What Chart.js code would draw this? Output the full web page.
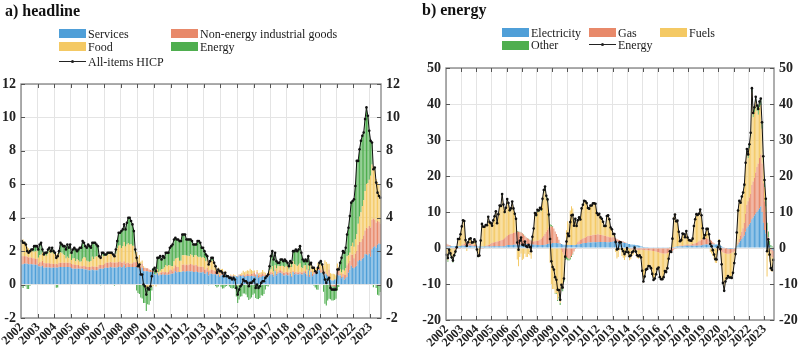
<!DOCTYPE html>
<html><head><meta charset="utf-8">
<script src="https://cdn.jsdelivr.net/npm/chart.js@4.4.0/dist/chart.umd.min.js"></script>
<style>
body{margin:0;width:800px;height:355px;position:relative;background:#fff;font-family:"Liberation Serif",serif;overflow:hidden}
canvas{position:absolute;top:0}
.title{position:absolute;font-weight:bold;font-size:16px;line-height:16px;color:#111;white-space:nowrap}
.lt{position:absolute;font-size:12px;line-height:12px;color:#1a1a1a;white-space:nowrap}
.sw{position:absolute;width:27px;height:9px}
.ln{position:absolute;width:27px;height:1px;background:#222}
.dt{position:absolute;width:3px;height:3px;border-radius:2px;background:#222}
</style></head>
<body>
<canvas id="c1" width="400" height="355" style="left:0"></canvas>
<canvas id="c2" width="400" height="355" style="left:400px"></canvas>
<div class="title" style="left:5px;top:3px">a) headline</div>
<div class="title" style="left:422px;top:2px">b) energy</div>
<div id="leg"></div>
<script>
// ---------- DATA ----------
const yearLabels = ['2002','2003','2004','2005','2006','2007','2008','2009','2010','2011','2012','2013','2014','2015','2016','2017','2018','2019','2020','2021','2022','2023'];
const monthsInLastYear = 8;

// a) headline: annual HICP inflation and contributions (pp)
const hicp = [
2.6,2.5,2.5,2.4,2.0,1.9,2.0,2.1,2.1,2.3,2.3,2.3,
2.1,2.4,2.5,2.1,1.8,1.9,1.9,2.1,2.2,2.0,2.2,2.0,
1.9,1.6,1.7,2.0,2.5,2.4,2.3,2.3,2.1,2.4,2.2,2.4,
1.9,2.1,2.2,2.1,2.0,2.1,2.2,2.2,2.6,2.5,2.3,2.2,
2.4,2.3,2.2,2.5,2.5,2.5,2.4,2.3,1.7,1.6,1.9,1.9,
1.8,1.8,1.9,1.9,1.9,1.9,1.8,1.7,2.1,2.6,3.1,3.1,
3.2,3.3,3.6,3.3,3.7,4.0,4.0,3.8,3.6,3.2,2.1,1.6,
1.1,1.2,0.6,0.6,0.0,-0.1,-0.6,-0.2,-0.3,-0.1,0.5,0.9,
1.0,0.8,1.6,1.6,1.7,1.5,1.7,1.6,1.9,1.9,1.9,2.2,
2.3,2.4,2.7,2.8,2.7,2.7,2.6,2.6,3.0,3.0,3.0,2.7,
2.7,2.7,2.7,2.6,2.4,2.4,2.4,2.6,2.6,2.5,2.2,2.2,
2.0,1.8,1.7,1.2,1.4,1.6,1.6,1.3,1.1,0.7,0.9,0.8,
0.8,0.7,0.5,0.7,0.5,0.5,0.4,0.4,0.3,0.4,0.3,-0.2,
-0.6,-0.3,-0.1,0.0,0.3,0.2,0.2,0.1,-0.1,0.1,0.1,0.2,
0.3,-0.2,0.0,-0.2,-0.1,0.1,0.2,0.2,0.4,0.5,0.6,1.1,
1.7,2.0,1.5,1.9,1.4,1.3,1.3,1.5,1.5,1.4,1.5,1.4,
1.3,1.1,1.4,1.3,2.0,2.0,2.1,2.0,2.1,2.3,1.9,1.5,
1.4,1.5,1.4,1.7,1.2,1.3,1.0,1.0,0.8,0.7,1.0,1.3,
1.4,1.2,0.7,0.3,0.1,0.3,0.4,-0.2,-0.3,-0.3,-0.3,-0.3,
0.9,0.9,1.3,1.6,2.0,1.9,2.2,3.0,3.4,4.1,4.9,5.0,
5.1,5.9,7.4,7.4,8.1,8.6,8.9,9.1,9.9,10.6,10.1,9.2,
8.6,8.5,6.9,7.0,6.1,5.5,5.3,5.2];

const services = [
1.20,1.22,1.25,1.25,1.25,1.22,1.22,1.22,1.20,1.20,1.18,1.18,
1.10,1.08,1.08,1.12,1.00,1.02,1.02,1.02,1.02,1.00,1.00,1.02,
1.00,1.02,1.00,1.05,1.05,1.05,1.05,1.05,1.05,1.05,1.05,1.05,
0.98,0.95,0.95,0.95,0.95,0.95,0.95,0.95,0.95,0.92,0.90,0.90,
0.85,0.85,0.85,0.90,0.85,0.85,0.85,0.85,0.95,0.95,0.95,0.95,
1.00,1.00,1.00,1.00,1.05,1.02,1.02,1.02,1.02,1.02,1.05,1.08,
1.02,1.05,1.15,1.00,1.05,1.05,1.05,1.05,1.05,1.05,1.05,1.05,
1.00,0.95,0.85,1.00,0.80,0.80,0.80,0.80,0.75,0.75,0.75,0.72,
0.60,0.58,0.68,0.55,0.60,0.58,0.62,0.58,0.60,0.58,0.60,0.60,
0.65,0.65,0.68,0.80,0.72,0.75,0.75,0.75,0.78,0.80,0.75,0.80,
0.80,0.80,0.78,0.80,0.75,0.75,0.78,0.75,0.72,0.72,0.72,0.75,
0.65,0.65,0.75,0.55,0.65,0.65,0.62,0.62,0.62,0.55,0.60,0.45,
0.55,0.58,0.58,0.70,0.50,0.45,0.50,0.50,0.45,0.50,0.48,0.50,
0.45,0.55,0.52,0.50,0.55,0.45,0.50,0.52,0.52,0.50,0.52,0.50,
0.50,0.45,0.60,0.40,0.45,0.45,0.52,0.50,0.50,0.45,0.48,0.55,
0.60,0.60,0.48,0.80,0.55,0.65,0.70,0.70,0.65,0.55,0.55,0.60,
0.55,0.55,0.65,0.45,0.75,0.60,0.65,0.60,0.60,0.65,0.60,0.60,
0.70,0.65,0.50,0.85,0.45,0.75,0.50,0.60,0.65,0.70,0.85,0.85,
0.70,0.70,0.55,0.65,0.60,0.50,0.40,0.30,0.25,0.25,0.30,0.30,
0.59,0.55,0.55,0.38,0.46,0.29,0.38,0.46,0.71,0.88,1.13,1.01,
0.97,1.05,1.13,1.39,1.47,1.43,1.55,1.60,1.81,1.81,1.76,1.85,
1.67,2.11,2.24,2.29,2.20,2.38,2.46,2.42];

const neig = [
0.50,0.48,0.45,0.45,0.42,0.40,0.40,0.40,0.38,0.38,0.35,0.35,
0.15,0.25,0.25,0.30,0.30,0.25,0.25,0.25,0.25,0.25,0.25,0.22,
0.22,0.22,0.22,0.25,0.25,0.25,0.25,0.25,0.25,0.25,0.25,0.25,
0.25,0.25,0.25,0.22,0.22,0.22,0.15,0.15,0.15,0.20,0.20,0.15,
0.20,0.20,0.20,0.20,0.22,0.22,0.22,0.22,0.22,0.22,0.22,0.22,
0.25,0.30,0.32,0.30,0.30,0.30,0.30,0.30,0.30,0.30,0.30,0.30,
0.30,0.25,0.25,0.25,0.25,0.25,0.20,0.20,0.22,0.28,0.28,0.30,
0.20,0.25,0.25,0.25,0.20,0.20,0.18,0.18,0.15,0.12,0.10,0.10,
0.02,0.02,0.03,0.06,0.10,0.15,0.15,0.15,0.15,0.12,0.15,0.25,
0.25,0.15,0.30,0.35,0.35,0.30,0.00,0.00,0.40,0.40,0.40,0.40,
0.35,0.40,0.45,0.40,0.40,0.40,0.40,0.35,0.35,0.35,0.35,0.30,
0.25,0.25,0.25,0.25,0.20,0.25,0.25,0.20,0.20,0.10,0.10,0.10,
0.10,0.12,0.08,0.05,0.00,0.00,0.00,0.05,0.05,0.05,0.00,0.02,
0.05,0.05,0.05,0.08,0.05,0.10,0.10,0.12,0.10,0.10,0.12,0.15,
0.22,0.15,0.15,0.15,0.15,0.15,0.15,0.10,0.10,0.07,0.10,0.10,
0.15,0.10,0.10,0.10,0.10,0.12,0.15,0.15,0.15,0.15,0.15,0.15,
0.18,0.15,0.10,0.08,0.08,0.12,0.12,0.12,0.12,0.12,0.12,0.12,
0.10,0.15,0.10,0.08,0.12,0.07,0.14,0.15,0.10,0.10,0.12,0.15,
0.15,0.20,0.15,0.15,0.07,0.07,0.50,0.05,-0.10,-0.10,-0.10,-0.15,
0.41,0.27,0.08,0.11,0.19,0.32,0.19,0.70,0.57,0.54,0.65,0.78,
0.60,0.81,0.88,0.99,1.09,1.12,1.17,1.33,1.43,1.59,1.59,1.66,
1.74,1.77,1.72,1.61,1.51,1.43,1.30,1.22];

const food = [
0.95,1.00,0.85,0.80,0.60,0.55,0.45,0.45,0.40,0.40,0.45,0.50,
0.35,0.42,0.47,0.50,0.45,0.51,0.45,0.61,0.78,0.63,0.75,0.61,
0.71,0.55,0.66,0.52,0.63,0.60,0.50,0.46,0.26,0.36,0.29,0.51,
0.24,0.36,0.38,0.22,0.35,0.27,0.27,0.28,0.45,0.53,0.50,0.37,
0.33,0.31,0.36,0.57,0.46,0.60,0.62,0.62,0.42,0.47,0.58,0.51,
0.48,0.44,0.44,0.56,0.53,0.51,0.46,0.45,0.53,0.85,0.97,0.98,
0.87,1.01,1.14,1.02,1.10,1.17,1.13,1.17,1.05,0.99,0.53,0.60,
0.40,0.57,0.27,0.19,0.10,0.01,-0.21,-0.21,-0.15,-0.16,-0.12,-0.09,
0.00,-0.11,0.21,0.13,0.13,0.18,0.16,0.29,0.42,0.39,0.40,0.30,
0.20,0.29,0.42,0.40,0.52,0.56,0.67,0.67,0.58,0.56,0.62,0.53,
0.58,0.50,0.58,0.55,0.48,0.61,0.58,0.57,0.57,0.59,0.53,0.60,
0.69,0.49,0.52,0.44,0.57,0.53,0.56,0.51,0.37,0.23,0.32,0.25,
0.28,0.24,0.06,0.08,0.09,0.04,0.01,0.06,0.04,0.06,0.09,0.00,
-0.05,0.00,0.05,0.12,0.23,0.19,0.19,0.22,0.21,0.35,0.23,0.16,
0.12,0.01,0.12,0.12,0.11,0.14,0.20,0.16,0.10,0.07,0.13,0.19,
0.16,0.40,0.20,0.26,0.31,0.35,0.24,0.26,0.32,0.41,0.34,0.37,
0.36,0.20,0.46,0.52,0.58,0.50,0.42,0.39,0.46,0.49,0.30,0.25,
0.34,0.35,0.29,0.26,0.26,0.37,0.31,0.31,0.22,0.20,0.34,0.28,
0.37,0.33,0.43,0.65,0.68,0.68,0.35,0.33,0.40,0.40,0.32,0.25,
0.26,0.22,0.30,0.23,0.24,0.22,0.41,0.53,0.47,0.48,0.52,0.71,
0.70,0.84,1.00,1.26,1.50,1.78,1.96,2.12,2.36,2.62,2.72,2.76,
3.10,3.30,3.10,2.97,2.60,2.30,2.20,2.00];

const energyContrib = [
-0.05,-0.20,-0.05,-0.10,-0.27,-0.27,-0.07,0.03,0.12,0.32,0.32,0.27,
0.50,0.65,0.70,0.18,0.05,0.12,0.18,0.22,0.15,0.12,0.20,0.15,
-0.03,-0.19,-0.18,0.18,0.57,0.50,0.50,0.54,0.54,0.74,0.61,0.59,
0.43,0.54,0.62,0.71,0.48,0.66,0.83,0.82,1.05,0.85,0.70,0.78,
1.02,0.94,0.79,0.83,0.97,0.83,0.71,0.61,0.11,-0.04,0.15,0.22,
0.07,0.06,0.14,0.04,0.02,0.07,0.02,-0.07,0.25,0.43,0.78,0.74,
1.01,0.99,1.06,1.03,1.30,1.53,1.62,1.38,1.28,0.88,0.24,-0.35,
-0.50,-0.57,-0.77,-0.84,-1.10,-1.11,-1.37,-0.97,-1.05,-0.81,-0.23,0.17,
0.38,0.31,0.68,0.86,0.87,0.59,0.77,0.58,0.73,0.81,0.75,1.05,
1.20,1.31,1.30,1.25,1.11,1.09,1.18,1.18,1.24,1.24,1.23,0.97,
0.97,1.00,0.89,0.85,0.77,0.64,0.64,0.93,0.96,0.84,0.60,0.55,
0.41,0.41,0.18,-0.04,-0.02,0.17,0.17,-0.03,-0.09,-0.18,-0.12,0.00,
-0.13,-0.24,-0.22,-0.13,-0.09,0.01,-0.11,-0.21,-0.24,-0.21,-0.27,-0.72,
-1.05,-0.90,-0.72,-0.70,-0.53,-0.54,-0.59,-0.76,-0.93,-0.85,-0.77,-0.61,
-0.54,-0.81,-0.87,-0.87,-0.81,-0.64,-0.67,-0.56,-0.30,-0.09,-0.11,0.26,
0.79,0.90,0.72,0.74,0.44,0.18,0.21,0.39,0.38,0.29,0.46,0.28,
0.21,0.20,0.19,0.25,0.59,0.78,0.91,0.89,0.92,1.04,0.88,0.53,
0.26,0.35,0.51,0.51,0.37,0.11,0.05,-0.06,-0.17,-0.30,-0.31,0.02,
0.18,-0.03,-0.43,-1.15,-1.25,-0.95,-0.85,-0.88,-0.85,-0.85,-0.82,-0.70,
-0.36,-0.14,0.37,0.88,1.11,1.07,1.22,1.31,1.65,2.20,2.60,2.50,
2.83,3.20,4.39,3.76,4.04,4.27,4.22,4.05,4.30,4.58,4.03,2.93,
2.09,1.32,-0.16,0.13,-0.21,-0.61,-0.66,-0.44];

// b) energy: annual energy inflation and contributions (pp)
const energy = [
-1.9,-2.8,-0.5,-1.5,-2.6,-3.5,-2.0,-1.0,0.2,2.5,2.5,3.8,
6.0,7.7,7.5,2.2,0.6,1.6,2.5,2.7,1.5,1.6,2.4,1.8,
-0.4,-2.2,-2.1,2.1,6.7,5.9,5.9,6.4,6.3,8.7,7.2,6.9,
6.2,7.7,8.8,10.2,6.9,9.4,11.8,11.7,15.0,12.1,10.0,11.2,
13.6,12.5,10.5,11.0,12.9,11.0,9.5,8.1,1.5,-0.5,2.0,2.9,
0.9,0.8,1.8,0.5,0.3,0.9,0.3,-0.9,3.1,5.4,9.7,9.2,
10.6,10.4,11.2,10.8,13.7,16.1,17.1,14.5,13.5,9.3,2.5,-3.7,
-5.3,-6.0,-8.1,-8.8,-11.6,-11.7,-14.4,-10.2,-11.0,-8.5,-2.4,1.8,
4.0,3.3,7.2,9.1,9.2,6.2,8.1,6.1,7.7,8.5,7.9,11.0,
12.0,13.1,13.0,12.5,11.1,10.9,11.8,11.8,12.4,12.4,12.3,9.7,
9.2,9.5,8.5,8.1,7.3,6.1,6.1,8.9,9.1,8.0,5.7,5.2,
3.9,3.9,1.7,-0.4,-0.2,1.6,1.6,-0.3,-0.9,-1.7,-1.1,0.0,
-1.2,-2.3,-2.1,-1.2,-0.9,0.1,-1.0,-2.0,-2.3,-2.0,-2.6,-6.3,
-9.3,-7.9,-6.0,-5.8,-5.0,-5.1,-5.6,-7.2,-8.9,-8.5,-7.3,-5.8,
-5.4,-8.1,-8.7,-8.7,-8.1,-6.4,-6.7,-5.6,-3.0,-0.9,-1.1,2.6,
8.1,9.3,7.4,7.6,4.5,1.9,2.2,4.0,3.9,3.0,4.7,2.9,
2.2,2.1,2.0,2.6,6.1,8.0,9.4,9.2,9.5,10.7,9.1,5.5,
2.7,3.6,5.3,5.3,3.8,1.1,0.5,-0.6,-1.8,-3.1,-3.2,0.2,
1.9,-0.3,-4.5,-9.7,-11.9,-9.3,-8.4,-7.8,-8.2,-8.2,-8.3,-6.9,
-4.2,-1.7,4.3,10.4,13.1,12.6,14.3,15.4,17.6,23.7,27.5,26.0,
28.8,32.0,44.4,37.5,39.1,42.0,39.6,38.6,40.7,41.5,34.9,25.5,
18.9,13.7,-0.9,2.4,-1.8,-5.6,-6.1,-3.3];

const electricity = [
0.4,0.4,0.4,0.5,0.5,0.5,0.5,0.5,0.5,0.5,0.5,0.5,
0.6,0.6,0.6,0.6,0.6,0.6,0.6,0.6,0.6,0.5,0.5,0.5,
0.4,0.4,0.4,0.4,0.4,0.4,0.4,0.4,0.4,0.4,0.4,0.4,
0.5,0.5,0.5,0.5,0.5,0.5,0.5,0.5,0.5,0.5,0.5,0.6,
0.8,0.8,0.8,0.8,0.8,0.9,0.9,0.9,0.9,0.9,0.9,0.9,
1.1,1.1,1.1,1.1,1.1,1.1,1.0,1.0,1.0,0.9,0.9,0.9,
0.8,0.8,0.8,0.8,0.8,0.8,0.9,1.0,1.1,1.2,1.2,1.2,
1.4,1.4,1.4,1.4,1.3,1.3,1.2,1.1,1.0,0.9,0.9,0.8,
0.8,0.8,0.8,0.8,0.8,0.8,0.8,0.9,1.0,1.0,1.1,1.2,
1.3,1.4,1.4,1.4,1.5,1.5,1.5,1.5,1.6,1.6,1.6,1.6,
1.7,1.7,1.7,1.7,1.7,1.7,1.7,1.6,1.6,1.6,1.7,1.7,
1.8,1.8,1.7,1.7,1.6,1.6,1.5,1.5,1.5,1.4,1.4,1.3,
1.1,1.1,1.0,1.0,0.9,0.9,0.8,0.8,0.7,0.6,0.5,0.4,
0.3,0.3,0.3,0.3,0.2,0.2,0.2,0.2,0.2,0.2,0.2,0.2,
0.1,0.1,0.1,0.1,0.1,0.1,0.1,0.1,0.1,0.1,0.1,0.1,
0.3,0.3,0.4,0.4,0.4,0.5,0.5,0.5,0.5,0.6,0.6,0.6,
0.6,0.6,0.6,0.6,0.6,0.6,0.6,0.6,0.7,0.7,0.7,0.8,
0.9,1.0,1.0,1.0,1.0,1.0,1.0,1.0,1.0,1.0,1.0,1.0,
0.8,0.7,0.5,0.3,0.1,0.0,-0.1,-0.2,-0.3,-0.3,-0.3,-0.3,
-0.2,0.0,0.5,1.0,1.5,2.0,2.5,3.0,3.5,4.5,5.5,6.0,
6.5,7.0,8.0,8.5,9.0,9.5,10.0,10.5,11.0,11.5,10.0,7.0,
5.0,4.0,2.0,1.5,0.8,0.0,-0.5,-0.8];

const gas = [
0.8,0.6,0.4,0.2,0.0,-0.2,-0.3,-0.3,-0.3,-0.2,-0.2,-0.1,
0.2,0.4,0.6,0.8,0.8,0.8,0.7,0.6,0.5,0.4,0.4,0.4,
0.2,0.0,-0.1,-0.2,-0.2,-0.1,0.0,0.2,0.3,0.4,0.6,0.8,
0.9,1.0,1.1,1.2,1.3,1.4,1.5,1.6,1.7,1.9,2.2,2.4,
2.6,2.8,3.0,3.1,3.2,3.3,3.4,3.5,3.6,3.6,3.5,3.4,
3.0,2.6,2.2,1.8,1.6,1.4,1.2,1.0,0.9,0.9,1.0,1.1,
1.2,1.3,1.5,1.8,2.2,2.5,3.0,3.5,4.0,4.5,4.8,4.8,
4.5,4.0,3.2,2.5,1.8,1.0,0.2,-0.5,-1.2,-1.8,-2.2,-2.5,
-2.8,-3.0,-2.8,-2.2,-1.6,-0.9,-0.3,0.2,0.6,0.9,1.1,1.2,
1.3,1.4,1.5,1.7,1.8,1.9,2.0,2.0,2.0,2.1,2.1,2.1,
2.1,2.0,2.0,1.9,1.8,1.7,1.7,1.6,1.5,1.4,1.3,1.2,
1.2,1.1,1.0,0.8,0.7,0.6,0.5,0.4,0.3,0.2,0.1,0.0,
-0.1,-0.2,-0.3,-0.4,-0.5,-0.5,-0.5,-0.5,-0.5,-0.5,-0.5,-0.5,
-0.5,-0.6,-0.6,-0.6,-0.7,-0.7,-0.7,-0.8,-0.8,-0.9,-1.0,-1.1,
-1.2,-1.3,-1.4,-1.5,-1.5,-1.5,-1.5,-1.4,-1.3,-1.2,-1.0,-0.8,
-0.5,-0.3,-0.2,0.0,0.1,0.2,0.2,0.2,0.2,0.2,0.3,0.4,
0.3,0.3,0.4,0.5,0.6,0.7,0.8,1.0,1.2,1.4,1.6,1.7,
1.8,1.8,1.7,1.6,1.4,1.2,1.0,0.6,0.3,0.0,-0.2,-0.4,
-0.6,-0.8,-1.0,-1.2,-1.4,-1.5,-1.5,-1.4,-1.3,-1.2,-1.0,-0.9,
-0.8,-0.5,0.0,0.5,1.0,1.5,2.0,2.5,3.5,5.0,6.5,7.0,
7.5,8.0,9.5,10.0,10.5,11.5,12.5,13.0,14.0,14.5,13.5,11.0,
8.0,6.0,3.0,1.5,0.0,-1.0,-2.0,-2.0];

const fuels = [
-2.8,-3.4,-1.0,-1.9,-2.8,-3.5,-2.0,-1.1,0.0,2.1,2.1,3.3,
5.0,6.4,6.0,0.7,-0.8,0.2,1.2,1.5,0.4,0.7,1.5,0.9,
-0.9,-2.5,-2.3,1.9,6.4,5.5,5.4,5.7,5.5,7.7,6.0,5.5,
4.6,6.0,6.9,8.2,4.8,7.2,9.4,9.2,12.3,9.2,6.9,7.8,
9.7,8.4,6.3,6.7,8.5,6.4,4.8,3.4,-3.2,-5.1,-2.5,-1.5,
-3.3,-3.0,-1.6,-2.5,-2.5,-1.7,-2.0,-3.0,1.0,3.3,7.4,6.7,
8.1,7.8,8.3,7.6,10.0,12.0,12.3,9.2,7.6,2.9,-4.1,-10.1,
-11.4,-11.4,-12.6,-12.5,-14.4,-13.6,-15.3,-10.3,-10.2,-6.9,-0.4,4.1,
6.6,6.0,9.6,10.8,10.2,6.4,7.6,4.9,6.0,6.5,5.6,8.4,
9.2,10.1,9.9,9.2,7.6,7.3,8.1,8.1,8.6,8.5,8.4,5.8,
5.2,5.6,4.6,4.4,3.7,2.6,2.6,5.6,5.9,4.9,2.6,2.2,
0.8,0.9,-1.1,-2.9,-2.5,-0.6,-0.4,-2.2,-2.7,-3.3,-2.6,-1.3,
-2.2,-3.2,-2.8,-1.8,-1.3,-0.3,-1.3,-2.3,-2.5,-2.1,-2.6,-6.2,
-9.1,-7.6,-5.7,-5.5,-4.5,-4.6,-5.1,-6.6,-8.3,-7.8,-6.5,-4.9,
-4.3,-6.9,-7.4,-7.3,-6.7,-5.0,-5.3,-4.3,-1.8,0.2,-0.2,3.3,
8.3,9.3,7.2,7.2,4.0,1.2,1.5,3.3,3.2,2.2,3.8,1.9,
1.3,1.2,1.0,1.5,4.9,6.7,8.0,7.6,7.6,8.6,6.8,3.0,
0.0,0.8,2.6,2.7,1.4,-1.1,-1.5,-2.2,-3.1,-4.1,-4.0,-0.4,
1.7,-0.1,-3.8,-8.5,-10.3,-7.5,-6.5,-5.9,-6.3,-6.4,-6.7,-5.4,
-3.0,-1.1,3.7,8.7,10.3,8.8,9.4,9.4,10.0,13.4,14.5,12.0,
13.8,16.0,25.7,17.8,18.3,19.6,15.6,13.5,14.0,13.7,9.6,5.7,
3.9,1.5,-7.9,-2.2,-3.8,-5.4,-4.1,-0.8];

const otherEnergy = [
-0.3,-0.4,-0.3,-0.3,-0.3,-0.3,-0.2,-0.1,0.0,0.1,0.1,0.1,
0.2,0.3,0.3,0.1,0.0,0.0,0.0,0.0,0.0,0.0,0.0,0.0,
-0.1,-0.1,-0.1,0.0,0.1,0.1,0.1,0.1,0.1,0.2,0.2,0.2,
0.2,0.2,0.3,0.3,0.3,0.3,0.4,0.4,0.5,0.5,0.4,0.4,
0.5,0.5,0.4,0.4,0.4,0.4,0.4,0.3,0.2,0.1,0.1,0.1,
0.1,0.1,0.1,0.1,0.1,0.1,0.1,0.1,0.2,0.3,0.4,0.5,
0.5,0.5,0.6,0.6,0.7,0.8,0.9,0.8,0.8,0.7,0.6,0.4,
0.2,0.0,-0.1,-0.2,-0.3,-0.4,-0.5,-0.5,-0.6,-0.7,-0.7,-0.6,
-0.6,-0.5,-0.4,-0.3,-0.2,-0.1,0.0,0.1,0.1,0.1,0.1,0.2,
0.2,0.2,0.2,0.2,0.2,0.2,0.2,0.2,0.2,0.2,0.2,0.2,
0.2,0.2,0.2,0.1,0.1,0.1,0.1,0.1,0.1,0.1,0.1,0.1,
0.1,0.1,0.1,0.0,0.0,0.0,0.0,0.0,0.0,0.0,0.0,0.0,
0.0,0.0,0.0,0.0,0.0,0.0,0.0,0.0,0.0,0.0,0.0,0.0,
0.0,0.0,0.0,0.0,0.0,0.0,0.0,0.0,0.0,0.0,0.0,0.0,
0.0,0.0,0.0,0.0,0.0,0.0,0.0,0.0,0.0,0.0,0.0,0.0,
0.0,0.0,0.0,0.0,0.0,0.0,0.0,0.0,0.0,0.0,0.0,0.0,
0.0,0.0,0.0,0.0,0.0,0.0,0.0,0.0,0.0,0.0,0.0,0.0,
0.0,0.0,0.0,0.0,0.0,0.0,0.0,0.0,0.0,0.0,0.0,0.0,
0.0,-0.1,-0.2,-0.3,-0.3,-0.3,-0.3,-0.3,-0.3,-0.3,-0.3,-0.3,
-0.2,-0.1,0.1,0.2,0.3,0.3,0.4,0.5,0.6,0.8,1.0,1.0,
1.0,1.0,1.2,1.2,1.3,1.4,1.5,1.6,1.7,1.8,1.8,1.8,
2.0,2.2,2.0,1.6,1.2,0.8,0.5,0.3];

const headlineTicks = {min: -2, max: 12, step: 2};
const energyTicks = {min: -20, max: 50, step: 10};

// ---------- STYLE ----------
const C = {blue:'#4f9fd8', orange:'#e8896a', yellow:'#f4c964', green:'#4fae4f', line:'#111'};
const months = [];
yearLabels.forEach((y, yi) => {
  const n = yi === yearLabels.length - 1 ? monthsInLastYear : 12;
  for (let m = 1; m <= n; m++) months.push(y + '-' + String(m).padStart(2, '0'));
});

Chart.defaults.font.family = '"Liberation Serif", serif';
Chart.defaults.color = '#222';

const framePlugin = {
  id: 'frame',
  afterDraw(chart) {
    const {ctx, chartArea: a} = chart;
    const n = chart.data.labels.length;
    const w = (a.right - a.left) / n;
    ctx.save();
    ctx.strokeStyle = '#8c8c8c';
    ctx.lineWidth = 1.4;
    ctx.strokeRect(a.left, a.top, a.right - a.left, a.bottom - a.top);
    ctx.lineWidth = 1;
    ctx.strokeStyle = '#555';
    ctx.beginPath();
    for (let i = 12; i < n; i += 12) {
      const x = Math.round(a.left + i * w) + 0.5;
      ctx.moveTo(x, a.bottom); ctx.lineTo(x, a.bottom - 4);
      ctx.moveTo(x, a.top); ctx.lineTo(x, a.top + 4);
    }
    const ys = chart.scales.y;
    ys.ticks.forEach(t => {
      const py = Math.round(ys.getPixelForValue(t.value)) + 0.5;
      ctx.moveTo(a.left, py); ctx.lineTo(a.left + 4, py);
      ctx.moveTo(a.right, py); ctx.lineTo(a.right - 4, py);
    });
    ctx.stroke();
    ctx.restore();
  }
};

function barDs(label, data, color) {
  return {type: 'bar', label, data, backgroundColor: color, stack: 'c', order: 1,
          barPercentage: 0.78, categoryPercentage: 1.0, borderWidth: 0};
}
function lineDs(label, data) {
  return {type: 'line', label, data, borderColor: C.line, borderWidth: 1, stack: 'line', order: 0,
          pointRadius: 1.3, pointBackgroundColor: C.line, pointBorderWidth: 0, tension: 0};
}

function makeChart(id, datasets, t, dims) {
  const yAxis = (pos, width) => ({
    position: pos, stacked: true, min: t.min, max: t.max,
    ticks: {stepSize: t.step, padding: 5, font: {size: 14, weight: 'bold'}, color: '#222'},
    grid: {display: pos === 'left', color: '#e4e4e4', drawTicks: false, lineWidth: 1},
    border: {display: false},
    afterFit: s => { s.width = width; }
  });
  return new Chart(document.getElementById(id), {
    data: {labels: months, datasets},
    options: {
      responsive: false, animation: false, devicePixelRatio: 1,
      layout: {padding: {top: dims.top, left: 0, right: 0, bottom: 0}},
      plugins: {legend: {display: false}, tooltip: {enabled: false}},
      scales: {
        x: {
          stacked: true, offset: true,
          ticks: {autoSkip: false, minRotation: 45, maxRotation: 45, padding: 2,
                  font: {size: 12.5, weight: 'bold'}, color: '#222',
                  callback: (v, i) => (i % 12 === 0 ? yearLabels[i / 12] : '')},
          grid: {offset: true, drawTicks: false, lineWidth: 1,
                 color: c => (c.index % 12 === 0 ? '#e4e4e4' : 'rgba(0,0,0,0)')},
          border: {display: false},
          afterFit: s => { s.height = dims.xh; }
        },
        y: yAxis('left', dims.yl),
        y2: yAxis('right', dims.yr)
      }
    },
    plugins: [framePlugin]
  });
}

makeChart('c1', [
  barDs('Services', services, C.blue),
  barDs('Non-energy industrial goods', neig, C.orange),
  barDs('Food', food, C.yellow),
  barDs('Energy', energyContrib, C.green),
  lineDs('All-items HICP', hicp)
], headlineTicks, {top: 84, xh: 37, yl: 21, yr: 19});

makeChart('c2', [
  barDs('Electricity', electricity, C.blue),
  barDs('Gas', gas, C.orange),
  barDs('Fuels', fuels, C.yellow),
  barDs('Other', otherEnergy, C.green),
  lineDs('Energy', energy)
], energyTicks, {top: 68, xh: 35, yl: 46, yr: 26});

// ---------- LEGENDS (HTML text) ----------
const legendItems = [
  {x: 59, y: 29, text: 'Services', kind: 'sw', color: C.blue},
  {x: 171, y: 29, text: 'Non-energy industrial goods', kind: 'sw', color: C.orange},
  {x: 59, y: 42, text: 'Food', kind: 'sw', color: C.yellow},
  {x: 171, y: 42, text: 'Energy', kind: 'sw', color: C.green},
  {x: 59, y: 57, text: 'All-items HICP', kind: 'ln'},
  {x: 502, y: 28, text: 'Electricity', kind: 'sw', color: C.blue},
  {x: 589, y: 28, text: 'Gas', kind: 'sw', color: C.orange},
  {x: 660, y: 28, text: 'Fuels', kind: 'sw', color: C.yellow},
  {x: 502, y: 40.5, text: 'Other', kind: 'sw', color: C.green},
  {x: 589, y: 40, text: 'Energy', kind: 'ln'}
];
const leg = document.getElementById('leg');
legendItems.forEach(it => {
  if (it.kind === 'sw') {
    const s = document.createElement('div');
    s.className = 'sw'; s.style.left = it.x + 'px'; s.style.top = it.y + 'px'; s.style.background = it.color;
    leg.appendChild(s);
  } else {
    const l = document.createElement('div');
    l.className = 'ln'; l.style.left = it.x + 'px'; l.style.top = (it.y + 4) + 'px';
    leg.appendChild(l);
    const d = document.createElement('div');
    d.className = 'dt'; d.style.left = (it.x + 12) + 'px'; d.style.top = (it.y + 3) + 'px';
    leg.appendChild(d);
  }
  const t = document.createElement('div');
  t.className = 'lt'; t.textContent = it.text;
  t.style.left = (it.x + 29) + 'px'; t.style.top = (it.y - 1.5) + 'px';
  leg.appendChild(t);
});
</script>
</body></html>
